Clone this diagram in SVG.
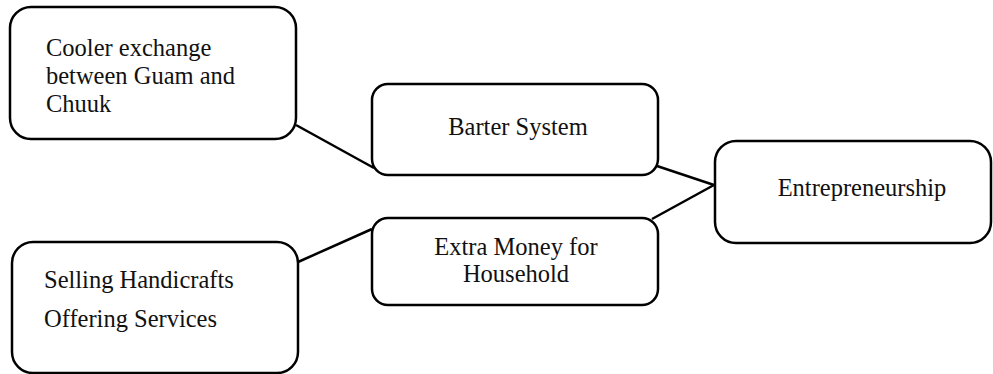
<svg xmlns="http://www.w3.org/2000/svg" width="993" height="374" viewBox="0 0 993 374">
<style>
.box{fill:#fff;stroke:#000;stroke-width:2.5}
.t{font-family:'Liberation Serif',serif;font-size:24.5px;fill:#111}
.c{stroke:#000;stroke-width:2.5;fill:none}
</style>
<rect width="993" height="374" fill="#fff"/>
<g id="connectors">
<line class="c" x1="296" y1="125" x2="374" y2="168"/>
<line class="c" x1="657" y1="166" x2="714" y2="185"/>
<line class="c" x1="652" y1="219" x2="714" y2="185"/>
<line class="c" x1="298" y1="262" x2="372" y2="229"/>
</g>
<g id="cooler">
<rect class="box" x="10" y="7" width="286" height="132" rx="21"/>
<text class="t" x="46" y="56">Cooler exchange</text>
<text class="t" x="46" y="84">between Guam and</text>
<text class="t" x="46" y="112">Chuuk</text>
</g>
<g id="barter">
<rect class="box" x="372" y="84" width="286" height="91" rx="16"/>
<text class="t" x="518" y="135" text-anchor="middle">Barter System</text>
</g>
<g id="extra">
<rect class="box" x="372" y="218" width="286" height="87" rx="16"/>
<text class="t" x="516" y="255" text-anchor="middle">Extra Money for</text>
<text class="t" x="516" y="282" text-anchor="middle">Household</text>
</g>
<g id="selling">
<rect class="box" x="12" y="242" width="286" height="131" rx="21"/>
<text class="t" x="44" y="288">Selling Handicrafts</text>
<text class="t" x="44" y="327">Offering Services</text>
</g>
<g id="entrepreneurship">
<rect class="box" x="715" y="141" width="276" height="102" rx="21"/>
<text class="t" x="862" y="196" text-anchor="middle">Entrepreneurship</text>
</g>
</svg>
